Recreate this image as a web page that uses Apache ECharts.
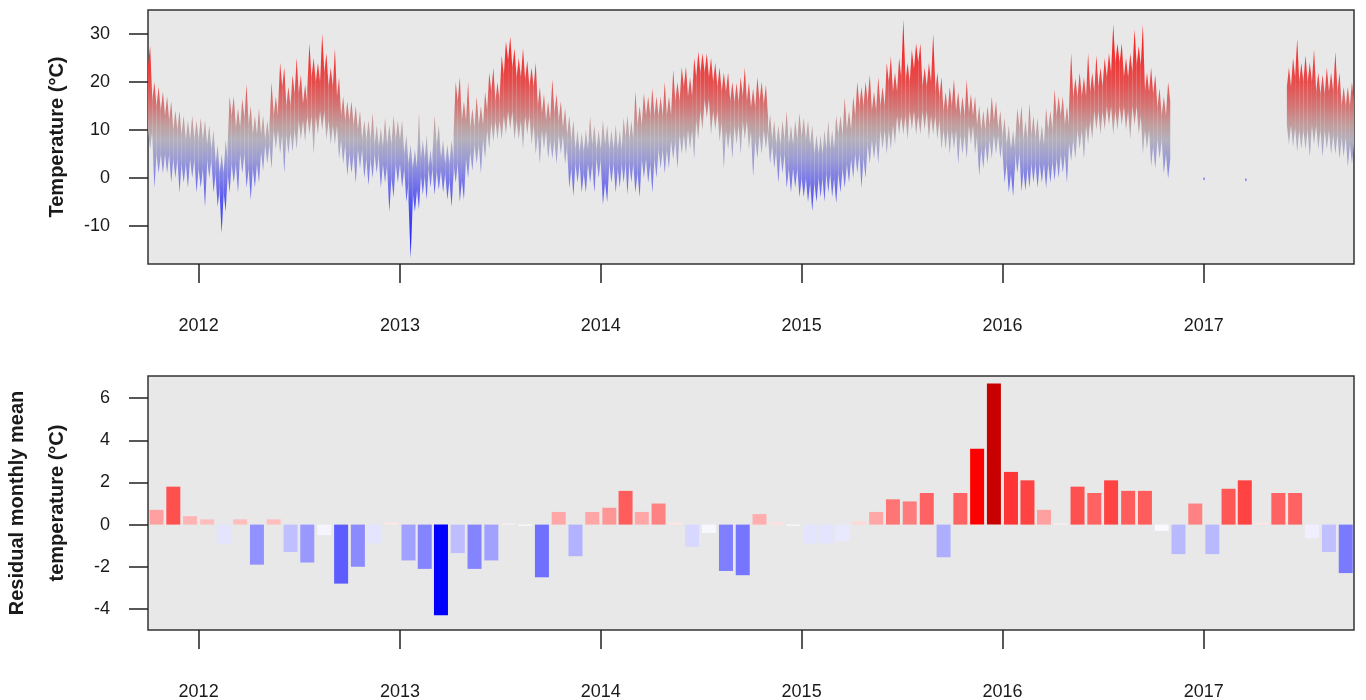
<!DOCTYPE html>
<html><head><meta charset="utf-8">
<script src="https://cdn.jsdelivr.net/npm/echarts@6/dist/echarts.min.js"></script>
<style>html,body{margin:0;padding:0;background:#fff}#c{width:1366px;height:700px}</style>
</head><body><div id="c"></div>
<script>
// ---- data ----
const months = [
 '2011-10','2011-11','2011-12',
 '2012-01','2012-02','2012-03','2012-04','2012-05','2012-06','2012-07','2012-08','2012-09','2012-10','2012-11','2012-12',
 '2013-01','2013-02','2013-03','2013-04','2013-05','2013-06','2013-07','2013-08','2013-09','2013-10','2013-11','2013-12',
 '2014-01','2014-02','2014-03','2014-04','2014-05','2014-06','2014-07','2014-08','2014-09','2014-10','2014-11','2014-12',
 '2015-01','2015-02','2015-03','2015-04','2015-05','2015-06','2015-07','2015-08','2015-09','2015-10','2015-11','2015-12',
 '2016-01','2016-02','2016-03','2016-04','2016-05','2016-06','2016-07','2016-08','2016-09','2016-10','2016-11','2016-12',
 '2017-01','2017-02','2017-03','2017-04','2017-05','2017-06','2017-07','2017-08','2017-09'
];
// daily temperature envelope, read per quarter-month (highs / lows), null = no record
const tempHigh = [
 [27.5,20,19,18],[17,16,14,14],[13,12,13,12],
 [12.5,12,11,10],[7,5,8,17],[17,14.5,16.5,19.5],[15,13,14.5,13],[12,20,17,24],[23,19,21.5,25],[21.5,19.5,28,25],[24,30,26,23],[27,21,17,16],[16,15,14,12],[12,13.5,11,10.5],[12.5,11,13,12],
 [12,9,7,6],[13.5,8,9,6],[13,11,8,7],[8,20,21,16],[20,14.5,17,15],[18,22,23,20],[25.5,28.5,29.5,27],[25,27,24.5,23],[24,19,17.5,16],[20.5,17.5,16,14.5],[13,12,10,9.5],[10,12.8,11,10],
 [12,11,10,11],[10,12.5,13,12],[18,15,17.7,17],[18.7,17,17,20],[17,22.5,20,23],[23.2,21,25,26.3],[26,26,25,24],[23,22,22,20],[19.8,21,23,20],[18.7,21,20,19.4],[13.2,12,11,12],[13.9,11,12,13.5],
 [12.5,12,11,9],[9,10,12,10],[13,13,16.6,14],[17,20,19,20],[21.5,18,21,19],[24,25.3,22,25],[33,24,26.7,28],[28,23,24,30],[22,21,18,19],[20.5,18,17,20.5],[17.5,17,15,14],[15,17,16,14],
 [12.5,11,10,14.5],[15,12,15.5,13],[12.5,11,14.5,14],[18.5,17,17,15],[26,20.8,22,21],[26,22,25.5,23],[25,26,32,28],[28,25,26,31],[27.5,32,22,23],[21.5,18.7,17,20],null,null,
 null,null,null,null,null,[23,25,29,24],[25.6,24,26.7,22],[21.5,23,22,26.3],[22,19,19,20]
];
const tempLow = [
 [6,-2,1,1],[1,-1,0,-3],[-1,-2,0,-3],
 [-2,-6,0,-3],[-6,-11.5,-7,-3],[-1,-3,1,-2],[-4.5,-2,-1,1.5],[3,2,6,5],[1,5,5.5,6],[8,7.5,9,5],[9,10,8,7],[7,4,3,0.5],[1,-1,2,0],[-1.5,0,1,-2],[-1,-7,-4,-1],
 [-2,-5,-16.7,-7],[-6.5,-3.5,-4.5,-2],[-3.5,-2.5,-3,-4.5],[-6,-1,-5,-4.5],[0,1.5,3,1],[4,6,7.5,8],[8,9,10,8],[8,6,9,7],[5,3,6,4],[4,3,5,3],[-2,-3.8,-1,-3],[-3,-1,-3,0],
 [-5.5,-5,-1,-3],[-2,-1,-3.5,-1],[-3,-4,0,-1],[-3,0,2,1],[2,3.8,2,5],[5,6,4,8],[10,12.5,9,10],[7.5,2,6,4],[7,5,8,6],[0.3,4,5,6],[3,2,-1,1],[-2,-3,-2,-4],
 [-4,-5,-6.9,-5],[-4,-4.9,-3,-4],[-5.2,-3,-2,-1],[0,1,-2,0],[3,4,3,6],[5,6,7,9],[9,8,10,9],[9,10,8,9],[8,6,6,5],[6,3,5,4],[7,5,0.5,2],[3,4,5,4],
 [-1,-3,-3.8,1],[-2.8,-2.6,-2,-1],[-2,-1,-2,-1],[-0.5,0,1,-1],[3.5,4,6,4],[7,8,10,9],[10,11,9,10],[11,10,8,11],[9,5,6,2.5],[2,4,1,-0.1],null,null,
 null,null,null,null,null,[7,6.5,5.5,6],[6,4.4,7,6],[4.4,6,5,5],[4,4.5,2.4,3]
];
// isolated readings inside the data gap: [date, low, high]
const gapReadings = [['2017-01-01',-0.5,0.2],['2017-03-18',-0.7,0.0]];
// residual monthly mean temperature (°C)
const residual = [
 0.7,1.8,0.4,
 0.25,-0.9,0.25,-1.9,0.25,-1.3,-1.8,-0.5,-2.8,-2.0,-0.9,0.1,
 -1.7,-2.1,-4.3,-1.35,-2.1,-1.7,0.05,-0.05,-2.5,0.6,-1.5,0.6,
 0.8,1.6,0.6,1.0,0.1,-1.05,-0.4,-2.2,-2.4,0.5,0.12,-0.05,
 -0.9,-0.9,-0.8,0.15,0.6,1.2,1.1,1.5,-1.55,1.5,3.6,6.7,
 2.5,2.1,0.7,0.05,1.8,1.5,2.1,1.6,1.6,-0.3,-1.4,1.0,
 -1.4,1.7,2.1,0.1,1.5,1.5,-0.65,-1.3,-2.3
];
const yearTicks = ['2012','2013','2014','2015','2016','2017'];
const tempTicks = [-10,0,10,20,30];
const residTicks = [-4,-2,0,2,4,6];

// ---- build ----
function mStart(m){const p=m.split('-').map(Number);return Date.UTC(p[0],p[1]-1,1);}
function mEnd(m){const p=m.split('-').map(Number);return Date.UTC(p[0],p[1],1);}
const tempData=[];
months.forEach((m,i)=>{const hi=tempHigh[i],lo=tempLow[i];if(!hi)return;const s=mStart(m),q=(mEnd(m)-s)/4;for(let k=0;k<4;k++)tempData.push([s+k*q,s+(k+1)*q,lo[k],hi[k]]);});
gapReadings.forEach(g=>{const t=Date.parse(g[0]+'T00:00:00Z');tempData.push([t,t+86400000,g[1],g[2]]);});

const NEG=[[0,255],[0.5,245],[0.9,228],[1.3,192],[1.5,178],[1.8,152],[2.1,132],[2.5,112],[2.8,92],[4.3,0]];
const POS=[[0,255],[0.25,190],[0.7,160],[1.0,130],[1.5,98],[1.8,80],[2.1,66],[2.5,52],[3.6,0]];
function interp(st,a){for(let i=1;i<st.length;i++){if(a<=st[i][0]){const a0=st[i-1],a1=st[i];return a0[1]+(a1[1]-a0[1])*(a-a0[0])/(a1[0]-a0[0]);}}return st[st.length-1][1];}
function residColor(v){
 if(v<0){const c=Math.round(interp(NEG,-v));return 'rgb('+c+','+c+',255)';}
 if(v<=3.6){const c=Math.round(interp(POS,v));return 'rgb(255,'+c+','+c+')';}
 const r=Math.round(255-55*Math.min(1,(v-3.6)/3.1));return 'rgb('+r+',0,0)';
}
const residData=months.map((m,i)=>({value:[(mStart(m)+mEnd(m))/2,residual[i]],itemStyle:{color:residColor(residual[i])}}));

// temperature colour ramp (value -> colour), drawn as a vertical gradient over the value axis
const G_TOP=33, G_BOT=-17;
const RAMP=[[33,'#ff1515'],[27,'#f52a2a'],[20,'#e64d4d'],[15,'#d47575'],[11,'#c09e9e'],[8,'#b4b0bc'],[4,'#9c9cd4'],[0,'#7d7de6'],[-5,'#5656f2'],[-12,'#2a2aff'],[-17,'#1a1aff']];
const rampStops=RAMP.map(r=>({offset:(G_TOP-r[0])/(G_TOP-G_BOT),color:r[1]}));

const FONT='"Liberation Sans", Arial, Helvetica, sans-serif';
const INK='#1a1a1a';
const xMin=Date.UTC(2011,9,1), xMax=Date.UTC(2017,9,1);
const yearVals=yearTicks.map(y=>Date.UTC(+y,0,1));
function xAxis(gi){return{type:'value',gridIndex:gi,min:xMin,max:xMax,scale:true,
 axisLine:{show:false,onZero:false},
 axisTick:{show:true,length:19,lineStyle:{color:'#222',width:1.5},customValues:yearVals},
 axisLabel:{customValues:yearVals,formatter:v=>String(new Date(v).getUTCFullYear()),margin:53,fontSize:18,color:INK,fontFamily:FONT,hideOverlap:false},
 splitLine:{show:false}};}
function yAxis(gi,min,max,ticks){return{type:'value',gridIndex:gi,min:min,max:max,
 axisLine:{show:false,onZero:false},
 axisTick:{show:true,length:19,lineStyle:{color:'#222',width:1.5},customValues:ticks},
 axisLabel:{customValues:ticks,margin:38,fontSize:18,color:INK,fontFamily:FONT},
 splitLine:{show:false}};}
const gridBase={left:148,right:12,height:254,show:true,backgroundColor:'#e8e8e8',borderColor:'#333',borderWidth:1.5,containLabel:false,outerBoundsMode:'none'};

const DIP=4; // valley depth between neighbouring readings (drawing style)
const chart=echarts.init(document.getElementById('c'),null,{renderer:'canvas'});
chart.setOption({
 animation:false,
 backgroundColor:'#ffffff',
 textStyle:{fontFamily:FONT},
 grid:[Object.assign({top:10},gridBase),Object.assign({top:376},gridBase)],
 xAxis:[xAxis(0),xAxis(1)],
 yAxis:[yAxis(0,-17.9,35,tempTicks),yAxis(1,-5,7.05,residTicks)],
 graphic:[
  {type:'text',x:57,y:137,rotation:Math.PI/2,style:{text:'Temperature (°C)',font:'bold 20px '+FONT,fill:INK,align:'center',verticalAlign:'middle'}},
  {type:'text',x:17.5,y:503,rotation:Math.PI/2,style:{text:'Residual monthly mean',font:'bold 20px '+FONT,fill:INK,align:'center',verticalAlign:'middle'}},
  {type:'text',x:57,y:503,rotation:Math.PI/2,style:{text:'temperature (°C)',font:'bold 20px '+FONT,fill:INK,align:'center',verticalAlign:'middle'}}
 ],
 series:[
  {type:'custom',xAxisIndex:0,yAxisIndex:0,data:tempData,clip:true,encode:{x:[0,1],y:[2,3]},
   renderItem:function(params,api){
    const i=params.dataIndex, d=tempData[i];
    const prev=(i>0&&tempData[i-1][1]===d[0])?tempData[i-1]:null;
    const next=(i<tempData.length-1&&tempData[i+1][0]===d[1])?tempData[i+1]:null;
    const lo=d[2], hi=d[3], mid=(lo+hi)/2;
    const tl=Math.max(mid,(prev?Math.min(prev[3],hi):hi)-DIP);
    const tr=Math.max(mid,(next?Math.min(next[3],hi):hi)-DIP);
    const bl=Math.min(mid,(prev?Math.max(prev[2],lo):lo)+DIP);
    const br=Math.min(mid,(next?Math.max(next[2],lo):lo)+DIP);
    const xc=(d[0]+d[1])/2;
    const pts=[api.coord([d[0],tl]),api.coord([xc,hi]),api.coord([d[1],tr]),api.coord([d[1],br]),api.coord([xc,lo]),api.coord([d[0],bl])];
    if(pts[4][1]-pts[1][1]<1.5){pts[1][1]-=0.75;pts[4][1]+=0.75;}
    if(pts[2][0]-pts[0][0]<1.5){pts[0][0]-=0.75;pts[5][0]-=0.75;pts[2][0]+=0.75;pts[3][0]+=0.75;}
    const yTop=api.coord([xc,G_TOP])[1], yBot=api.coord([xc,G_BOT])[1];
    return {type:'polygon',shape:{points:pts},
     style:{fill:new echarts.graphic.LinearGradient(0,yTop,0,yBot,rampStops,true)}};
   }},
  {type:'bar',xAxisIndex:1,yAxisIndex:1,data:residData,barWidth:14}
 ]
});
</script></body></html>
